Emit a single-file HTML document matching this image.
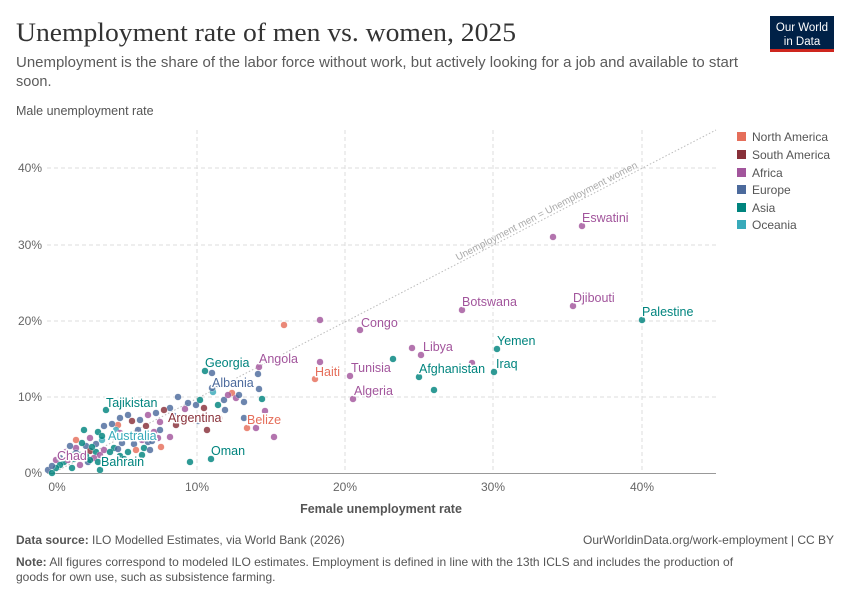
<!DOCTYPE html>
<html><head><meta charset="utf-8"><style>
html,body{margin:0;padding:0;background:#fff;}
body{width:850px;height:600px;overflow:hidden;position:relative;font-family:"Liberation Sans",sans-serif;}
.lb text{paint-order:stroke;stroke:#fff;stroke-width:3px;stroke-linejoin:round;}
</style></head><body>
<svg id="s" width="850" height="600" xmlns="http://www.w3.org/2000/svg" style="position:absolute;left:0;top:0">
<text x="16" y="41" font-family="Liberation Serif,serif" font-size="26" fill="#333" textLength="500" lengthAdjust="spacingAndGlyphs">Unemployment rate of men vs. women, 2025</text>
<text x="16" y="67" font-size="14.5" fill="#5b5b5b" textLength="722" lengthAdjust="spacingAndGlyphs">Unemployment is the share of the labor force without work, but actively looking for a job and available to start</text>
<text x="16" y="86" font-size="14.5" fill="#5b5b5b">soon.</text>
<rect x="770" y="16" width="64" height="35" fill="#002147"/>
<rect x="770" y="49" width="64" height="3" fill="#ce261e"/>
<text x="802" y="31" font-size="11.5" fill="#fff" text-anchor="middle">Our World</text>
<text x="802" y="45" font-size="11.5" fill="#fff" text-anchor="middle">in Data</text>
<text x="16" y="115" font-size="12.5" fill="#555">Male unemployment rate</text>
<g stroke="#ddd" stroke-dasharray="4,3">
<line x1="47" x2="716" y1="397" y2="397"/><line x1="47" x2="716" y1="321" y2="321"/><line x1="47" x2="716" y1="245" y2="245"/><line x1="47" x2="716" y1="168" y2="168"/>
<line x1="197" x2="197" y1="130" y2="473"/><line x1="345" x2="345" y1="130" y2="473"/><line x1="493" x2="493" y1="130" y2="473"/><line x1="642" x2="642" y1="130" y2="473"/>
</g>
<line x1="47" x2="716" y1="473.5" y2="473.5" stroke="#999"/>
<line x1="53" y1="473" x2="716" y2="130" stroke="#bbb" stroke-dasharray="1.5,2"/>
<text transform="translate(548,214) rotate(-27.4)" font-size="10" fill="#aaa" text-anchor="middle">Unemployment men = Unemployment women</text>
<g font-size="12" fill="#666" text-anchor="end">
<text x="42" y="477">0%</text><text x="42" y="401">10%</text><text x="42" y="325">20%</text><text x="42" y="249">30%</text><text x="42" y="172">40%</text>
</g>
<g font-size="12" fill="#666" text-anchor="middle">
<text x="57" y="491">0%</text><text x="197" y="491">10%</text><text x="345" y="491">20%</text><text x="493" y="491">30%</text><text x="642" y="491">40%</text>
</g>
<text x="381" y="513" font-size="12.5" fill="#555" text-anchor="middle" font-weight="bold">Female unemployment rate</text>
<g id="pts"></g>
<g font-size="12.5" class="lb">
<text x="582" y="222" fill="#a2559c">Eswatini</text>
<text x="573" y="302" fill="#a2559c">Djibouti</text>
<text x="462" y="306" fill="#a2559c">Botswana</text>
<text x="642" y="316" fill="#00847e">Palestine</text>
<text x="497" y="345" fill="#00847e">Yemen</text>
<text x="496" y="368" fill="#00847e">Iraq</text>
<text x="419" y="373" fill="#00847e">Afghanistan</text>
<text x="423" y="351" fill="#a2559c">Libya</text>
<text x="361" y="327" fill="#a2559c">Congo</text>
<text x="351" y="372" fill="#a2559c">Tunisia</text>
<text x="315" y="376" fill="#e56e5a">Haiti</text>
<text x="354" y="395" fill="#a2559c">Algeria</text>
<text x="259" y="363" fill="#a2559c">Angola</text>
<text x="205" y="367" fill="#00847e">Georgia</text>
<text x="212" y="387" fill="#4c6a9c">Albania</text>
<text x="247" y="424" fill="#e56e5a">Belize</text>
<text x="168" y="422" fill="#883039">Argentina</text>
<text x="106" y="407" fill="#00847e">Tajikistan</text>
<text x="108" y="440" fill="#38aaba">Australia</text>
<text x="211" y="455" fill="#00847e">Oman</text>
<text x="57" y="460" fill="#a2559c">Chad</text>
<text x="101" y="466" fill="#00847e">Bahrain</text>
</g>
<g font-size="12" fill="#555">
<rect x="737" y="132" width="9" height="9" fill="#e56e5a"/><text x="752" y="141">North America</text>
<rect x="737" y="150" width="9" height="9" fill="#883039"/><text x="752" y="159">South America</text>
<rect x="737" y="168" width="9" height="9" fill="#a2559c"/><text x="752" y="177">Africa</text>
<rect x="737" y="185" width="9" height="9" fill="#4c6a9c"/><text x="752" y="194">Europe</text>
<rect x="737" y="203" width="9" height="9" fill="#00847e"/><text x="752" y="212">Asia</text>
<rect x="737" y="220" width="9" height="9" fill="#38aaba"/><text x="752" y="229">Oceania</text>
</g>
<text x="16" y="544" font-size="12" fill="#555"><tspan font-weight="bold">Data source:</tspan> ILO Modelled Estimates, via World Bank (2026)</text>
<text x="834" y="544" font-size="12" fill="#555" text-anchor="end">OurWorldinData.org/work-employment | CC BY</text>
<text x="16" y="566" font-size="12" fill="#555"><tspan font-weight="bold">Note:</tspan> All figures correspond to modeled ILO estimates. Employment is defined in line with the 13th ICLS and includes the production of</text>
<text x="16" y="581" font-size="12" fill="#555">goods for own use, such as subsistence farming.</text>
</svg>
<script>
var C={n:"#e56e5a",s:"#883039",a:"#a2559c",e:"#4c6a9c",as:"#00847e",o:"#38aaba"};
var P=[[582,226,"a"],[553,237,"a"],[573,306,"a"],[462,310,"a"],[642,320,"as"],[497,349,"as"],[494,372,"as"],[419,377,"as"],[434,390,"as"],[421,355,"a"],[412,348,"a"],[472,363,"a"],[393,359,"as"],[360,330,"a"],[320,320,"a"],[320,362,"a"],[284,325,"n"],[350,376,"a"],[315,379,"n"],[353,399,"a"],[259,367,"a"],[205,371,"as"],[212,373,"e"],[258,374,"e"],[259,389,"e"],[247,428,"n"],[256,428,"a"],[265,411,"a"],[274,437,"a"],[211,459,"as"],[190,462,"as"],[207,430,"s"],[219,418,"s"],[106,410,"as"],[56,460,"a"],[100,470,"as"],[48,470,"e"],[52,473,"as"],[262,399,"as"],[232,393,"n"],[224,400,"e"],[213,392,"o"],[218,384,"e"],[236,398,"a"],[244,402,"e"],[225,410,"e"],[204,408,"s"],[196,405,"e"],[188,403,"e"],[185,409,"a"],[178,397,"e"],[170,408,"e"],[164,410,"s"],[156,413,"e"],[148,415,"a"],[140,420,"e"],[132,421,"s"],[128,415,"e"],[120,418,"e"],[118,425,"n"],[112,424,"e"],[104,426,"e"],[160,422,"a"],[146,426,"s"],[138,430,"e"],[154,432,"a"],[161,447,"n"],[158,438,"a"],[148,442,"e"],[142,440,"a"],[134,444,"e"],[128,436,"n"],[122,443,"e"],[116,438,"s"],[114,448,"as"],[98,432,"as"],[96,444,"e"],[90,438,"a"],[86,446,"e"],[82,443,"as"],[76,448,"a"],[70,446,"e"],[84,430,"as"],[90,451,"s"],[96,452,"as"],[100,455,"a"],[94,458,"a"],[86,456,"as"],[80,455,"as"],[76,453,"e"],[72,455,"as"],[66,452,"a"],[60,458,"e"],[64,462,"as"],[80,465,"a"],[88,462,"e"],[92,447,"as"],[104,450,"a"],[110,452,"as"],[118,449,"e"],[128,452,"as"],[136,450,"n"],[144,448,"as"],[152,441,"e"],[142,455,"as"],[120,456,"as"],[72,468,"as"],[60,465,"as"],[56,468,"as"],[68,460,"a"],[106,460,"as"],[84,458,"e"],[74,459,"as"],[90,460,"as"],[98,462,"as"],[102,440,"o"],[116,430,"o"],[160,430,"e"],[176,425,"s"],[182,420,"n"],[198,421,"e"],[174,416,"e"],[200,400,"as"],[218,405,"as"],[194,420,"n"],[244,418,"e"],[212,388,"e"],[228,395,"a"],[239,395,"e"],[52,466,"e"],[124,459,"as"],[132,462,"as"],[150,450,"e"],[170,437,"a"],[102,436,"as"],[120,433,"a"],[76,440,"n"]];
var g=document.getElementById("pts"),h="";
P.forEach(function(p){h+='<circle cx="'+p[0]+'" cy="'+p[1]+'" r="3.4" fill="'+C[p[2]]+'" fill-opacity="0.82" stroke="#fff" stroke-width="0.3"/>';});
g.innerHTML=h;
</script>
</body></html>
